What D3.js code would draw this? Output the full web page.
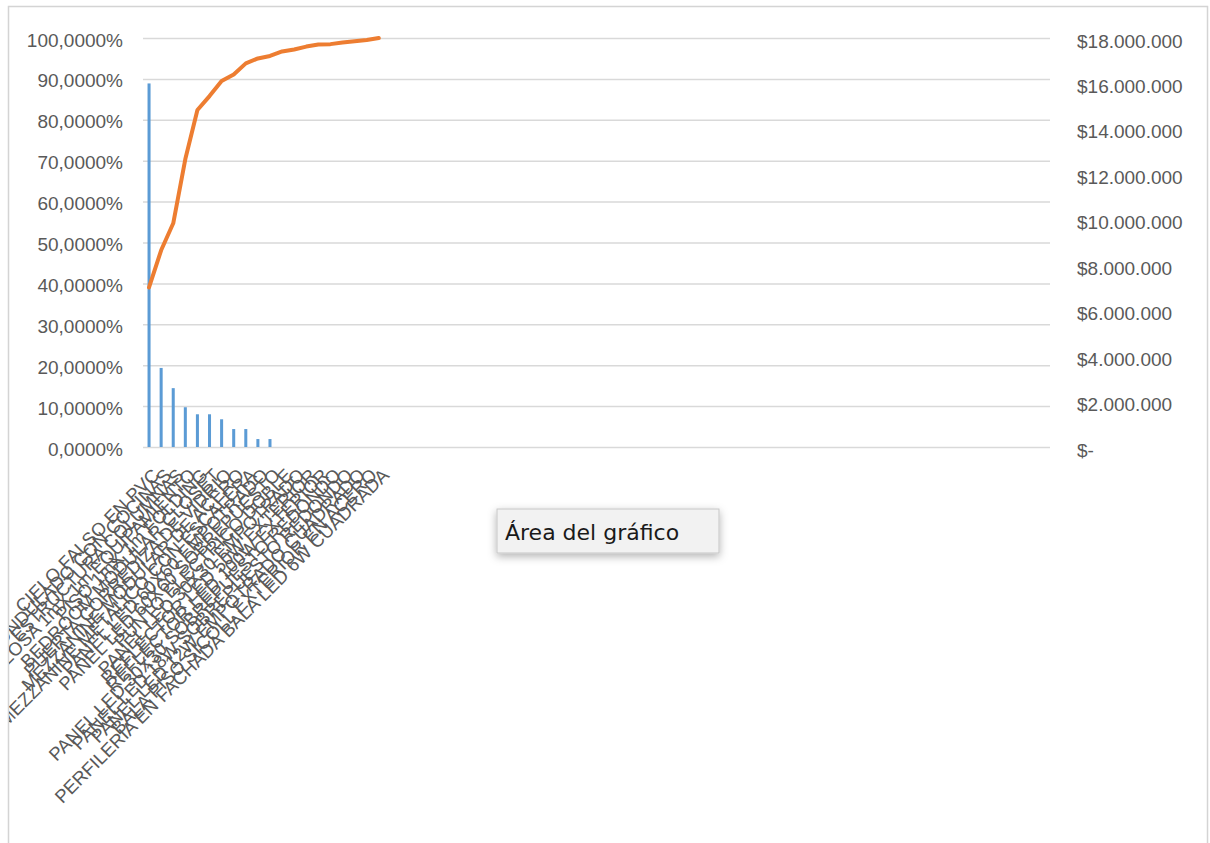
<!DOCTYPE html>
<html>
<head>
<meta charset="utf-8">
<script src="https://cdn.jsdelivr.net/npm/d3@7"></script>
<style>
  body { margin: 0; background: #fff; }
  text { font-family: "Liberation Sans", Arial, sans-serif; }
</style>
</head>
<body>
<div id="chart"></div>
<script>
// Chart data
const categories = [
  "CIELO FALSO EN PVC",
  "PANEL ONDULADO CON COCINAS",
  "ESTRUCTURA COLUMNAS",
  "LOSA 1mX 1m EQUIPAMIENTO",
  "PISO 1mX 1m FOLDING",
  "BEDROOM MODULAR CLOSET",
  "PUERTA CORREDIZA DE VIDRIO",
  "MEZZANINE MODULAR DE ACERO",
  "MEZZANINE METALICO CON ESCALERA",
  "PANEL LED 60X60 EMPOTRADO",
  "PANEL LED 60X60 SOBREPUESTO",
  "PUNTO ELECTRICO DOBLE",
  "PANEL LED 30X30 EMPOTRADO",
  "REFLECTOR LED 50W EXTERIOR",
  "REFLECTOR LED 100W EXTERIOR",
  "PANEL LED 30X30 SOBREPUESTO REDONDO",
  "PANEL LED 18W SOBREPUESTO REDONDO",
  "PANEL LED 12W EMPOTRADO CUADRADO",
  "BALA PISO SICOLL EXTERIOR EN ACERO",
  "PERFILERIA EN FACHADA BALA LED 6W CUADRADA"
];
const amounts = [16000000, 3480000, 2590000, 1750000, 1440000, 1440000, 1220000, 790000, 790000, 350000, 350000,
  0, 0, 0, 0, 0, 0, 0, 0, 0];
const cumulativePct = [39.0, 48.1, 54.7, 70.4, 82.4, 85.8, 89.5, 91.1, 93.8, 95.0, 95.6,
  96.7, 97.2, 97.9, 98.4, 98.5, 98.9, 99.2, 99.5, 100];
const pctTicks = [0, 10, 20, 30, 40, 50, 60, 70, 80, 90, 100];
const moneyTicks = [0, 2000000, 4000000, 6000000, 8000000, 10000000, 12000000, 14000000, 16000000, 18000000];
const slotCount = 75; // category slots in the sheet range, most are empty

const width = 1210;
const height = 843;
const plotLeft = 143, plotRight = 1050, plotTop = 38, plotBottom = 447;
const labelColor = '#595959';

const locale = d3.formatLocale({decimal: ',', thousands: '.', grouping: [3], currency: ['$', '']});
const pctFormat = d => locale.format('.4f')(d) + '%';
const moneyFormat = d => d === 0 ? '$-' : locale.format('$,.0f')(d);

const svg = d3.select('#chart').append('svg')
  .attr('width', width)
  .attr('height', height);

const defs = svg.append('defs');
defs.append('clipPath').attr('id', 'area-clip')
  .append('rect').attr('x', 9).attr('y', 7).attr('width', 1198).attr('height', 840);
const shadow = defs.append('filter').attr('id', 'tip-shadow')
  .attr('x', '-20%').attr('y', '-30%').attr('width', '140%').attr('height', '180%');
shadow.append('feDropShadow').attr('dx', 0).attr('dy', 3).attr('stdDeviation', 4)
  .attr('flood-color', '#000').attr('flood-opacity', 0.3);

// chart area frame
svg.append('rect')
  .attr('x', 8.5).attr('y', 6.5).attr('width', 1199).attr('height', 900)
  .attr('fill', '#fff').attr('stroke', '#d4d4d4').attr('stroke-width', 1.5);

// Scales
const x = d3.scaleBand()
  .domain(d3.range(slotCount))
  .range([plotLeft, plotRight])
  .paddingInner(0.75)
  .paddingOuter(0.375);
const yPct = d3.scaleLinear().domain([0, 100]).range([plotBottom, plotTop]);
const yMoney = d3.scaleLinear().domain([0, 18000000]).range([plotBottom, plotTop]);

// gridlines
const grid = svg.append('g')
  .attr('transform', `translate(${plotLeft},0)`)
  .call(d3.axisLeft(yPct).tickValues(pctTicks).tickSize(-(plotRight - plotLeft)).tickFormat(''));
grid.select('.domain').remove();
grid.selectAll('line').attr('stroke', '#d9d9d9').attr('stroke-width', 1.5);

// left axis labels
const leftAxis = svg.append('g')
  .attr('transform', `translate(${plotLeft},2)`)
  .call(d3.axisLeft(yPct).tickValues(pctTicks).tickSize(0).tickPadding(20).tickFormat(pctFormat));
leftAxis.select('.domain').remove();
leftAxis.selectAll('text')
  .style('font-family', '"Liberation Sans", Arial, sans-serif')
  .style('font-size', '19px')
  .attr('fill', labelColor);

// right axis labels
const rightAxis = svg.append('g')
  .attr('transform', `translate(${plotRight},3)`)
  .call(d3.axisRight(yMoney).tickValues(moneyTicks).tickSize(0).tickPadding(27).tickFormat(moneyFormat));
rightAxis.select('.domain').remove();
rightAxis.selectAll('text')
  .style('font-family', '"Liberation Sans", Arial, sans-serif')
  .style('font-size', '19px')
  .attr('fill', labelColor);

// Bars
svg.selectAll('.bar').data(amounts).join('rect')
  .attr('class', 'bar')
  .attr('x', (d, i) => x(i))
  .attr('width', x.bandwidth())
  .attr('y', d => yMoney(d))
  .attr('height', d => plotBottom - yMoney(d))
  .attr('fill', '#5B9BD5');

// Cumulative line
const line = d3.line()
  .x((d, i) => x(i) + x.bandwidth() / 2)
  .y(d => yPct(d));
svg.append('path')
  .datum(cumulativePct)
  .attr('d', line)
  .attr('fill', 'none')
  .attr('stroke', '#ED7D31')
  .attr('stroke-width', 4)
  .attr('stroke-linejoin', 'round')
  .attr('stroke-linecap', 'round');

// Category labels
svg.append('g').attr('clip-path', 'url(#area-clip)')
  .selectAll('text').data(categories).join('text')
  .attr('transform', (d, i) => `translate(${x(i) + x.bandwidth() / 2 + 2},467) rotate(-45)`)
  .attr('dy', '0.72em')
  .style('text-anchor', 'end')
  .style('font-size', '18.5px')
  .attr('fill', labelColor)
  .text(d => d);

// tooltip
const tip = svg.append('g').attr('transform', 'translate(497,509)');
tip.append('rect')
  .attr('width', 222).attr('height', 44)
  .attr('fill', '#f2f2f2').attr('stroke', '#c6c6c6')
  .attr('filter', 'url(#tip-shadow)');
tip.append('text')
  .attr('x', 8).attr('y', 31)
  .style('font-family', '"DejaVu Sans", sans-serif')
  .style('font-size', '22px')
  .attr('fill', '#1a1a1a')
  .text('Área del gráfico');
</script>
</body>
</html>
